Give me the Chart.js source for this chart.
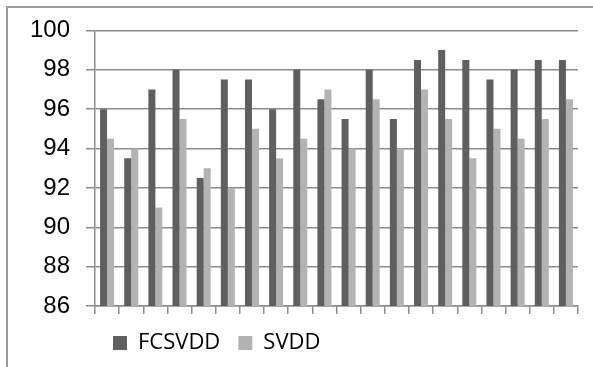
<!DOCTYPE html>
<html>
<head>
<meta charset="utf-8">
<script src="https://cdn.jsdelivr.net/npm/chart.js@4/dist/chart.umd.min.js"></script>
<style>
  html, body { margin: 0; padding: 0; background: #ffffff; }
  #wrap { position: relative; width: 593px; height: 367px; overflow: hidden; }
  #frame {
    position: absolute; left: 6px; top: 6px; width: 700px; height: 500px;
    border-top: 2px solid #9a9a9a; border-left: 2px solid #9a9a9a;
  }
  canvas { position: absolute; left: 0; top: 0; }
</style>
</head>
<body>
<div id="wrap">
  <div id="frame"></div>
  <canvas id="chart" width="593" height="367"></canvas>
</div>
<script>
// Twenty test cases, accuracy (%) of each method
const categories = ['1','2','3','4','5','6','7','8','9','10','11','12','13','14','15','16','17','18','19','20'];
const fcsvdd = [96, 93.5, 97, 98, 92.5, 97.5, 97.5, 96, 98, 96.5, 95.5, 98, 95.5, 98.5, 99, 98.5, 97.5, 98, 98.5, 98.5];
const svdd   = [94.5, 94, 91, 95.5, 93, 92, 95, 93.5, 94.5, 97, 94, 96.5, 94, 97, 95.5, 93.5, 95, 94.5, 95.5, 96.5];
const yTicks = [86, 88, 90, 92, 94, 96, 98, 100];

const gridColor = '#8c8c8c';

new Chart(document.getElementById('chart'), {
  type: 'bar',
  data: {
    labels: categories,
    datasets: [
      { label: 'FCSVDD', data: fcsvdd, backgroundColor: '#5f5f5f', borderWidth: 0,
        categoryPercentage: 0.58, barPercentage: 1.0 },
      { label: 'SVDD', data: svdd, backgroundColor: '#b3b3b3', borderWidth: 0,
        categoryPercentage: 0.58, barPercentage: 1.0 }
    ]
  },
  options: {
    responsive: false,
    animation: false,
    layout: { padding: { left: 0, right: 15, top: 30, bottom: 3 } },
    plugins: {
      tooltip: { enabled: false },
      legend: {
        position: 'bottom',
        align: 'start',
        fullSize: false,
        labels: {
          boxWidth: 14, boxHeight: 14, padding: 18,
          color: '#000000',
          font: { family: '"Open Sans", sans-serif', size: 22 }
        }
      }
    },
    scales: {
      x: {
        grid: { display: true, drawOnChartArea: false, drawTicks: true, tickLength: 8,
                color: gridColor, lineWidth: 1.5, offset: true },
        border: { display: true, color: gridColor, width: 1.5 },
        ticks: { display: false },
        afterFit: (s) => { s.height = 8; }
      },
      y: {
        min: 86, max: 100,
        afterBuildTicks: (s) => { s.ticks = yTicks.map(v => ({ value: v })); },
        grid: { color: gridColor, lineWidth: 1.5, tickLength: 9, drawTicks: true },
        border: { display: true, color: gridColor, width: 1.5 },
        ticks: {
          color: '#000000', padding: 16,
          font: { family: '"Liberation Sans", Arial, sans-serif', size: 24 }
        },
        afterFit: (s) => { s.width = 95; }
      }
    }
  }
});
</script>
</body>
</html>
